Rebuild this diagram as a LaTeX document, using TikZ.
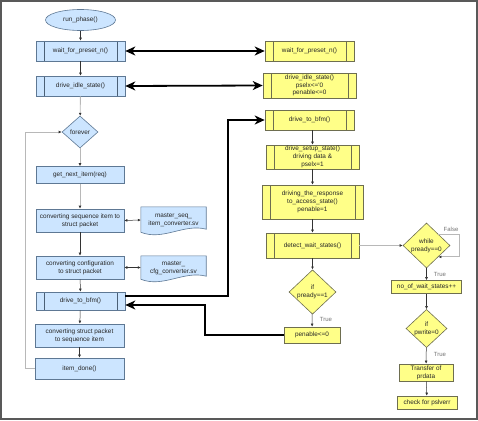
\documentclass[tikz,border=0pt]{standalone}
\usepackage{fontspec}
\setmainfont{Liberation Sans}
\usetikzlibrary{arrows.meta,shapes.geometric,calc,backgrounds}
\definecolor{bfill}{HTML}{CCE5FF}
\definecolor{bstroke}{HTML}{5E7894}
\definecolor{yfill}{HTML}{FFFF88}
\definecolor{ystroke}{HTML}{6E6E50}
\newcommand\dfont{\fontsize{6.4}{7.8}\selectfont}
\newcommand\lfont{\fontsize{6}{7}\selectfont}
\tikzset{
  base/.style={font=\dfont, text=black!85, inner sep=0pt, align=center},
  bbox/.style={base, rectangle, draw=bstroke, fill=bfill, line width=0.6pt},
  ybox/.style={base, rectangle, draw=ystroke, fill=yfill, line width=0.6pt},
  subl/.style={path picture={\draw[line width=0.6pt, draw=#1]
      ([xshift=8pt]path picture bounding box.north west) -- ([xshift=8pt]path picture bounding box.south west)
      ([xshift=-8pt]path picture bounding box.north east) -- ([xshift=-8pt]path picture bounding box.south east);}},
  bsub/.style={bbox, subl=bstroke!80!black},
  ysub/.style={ybox, subl=ystroke},
  bell/.style={base, ellipse, draw=bstroke, fill=bfill, line width=0.6pt},
  bdia/.style={bbox, diamond, aspect=1},
  ydia/.style={ybox, diamond, aspect=1},
  docnode/.style={base},
  docst/.style={draw=bstroke, fill=bfill, line width=0.6pt},
  conn/.style={draw=black!80, line width=0.5pt, -{Latex[length=3pt,width=2.8pt]}},
  dconn/.style={draw=black!80, line width=0.5pt, {Latex[length=3pt,width=2.8pt]}-{Latex[length=3pt,width=2.8pt]}},
  gconn/.style={draw=black!28, line width=0.9pt, -{Latex[length=3pt,width=2.8pt,color=black!80]}},
  bigline/.style={draw=black, line width=1.8pt, line join=miter},
  lbl/.style={font=\lfont, text=black!55, inner sep=0pt},
}
\begin{document}
\begin{tikzpicture}[x=1pt,y=-1pt]
\useasboundingbox (0,0) rectangle (478,420);
\draw[black!65, line width=1.2pt] (1,1) rectangle (477,419);

% left column
\node[bell, minimum width=70, minimum height=21] (rp) at (80.5,20) {run\_phase()};
\node[bsub, minimum width=89, minimum height=20] (lw) at (80.5,51) {wait\_for\_preset\_n()};
\node[bsub, minimum width=89, minimum height=20] (ld) at (80.5,86) {drive\_idle\_state()};
\node[bdia, minimum width=36, minimum height=32] (fe) at (80,132) {forever};
\node[bbox, minimum width=88, minimum height=17] (gn) at (80,175) {get\_next\_item(req)};
\node[bbox, minimum width=88, minimum height=23] (cs) at (80,220.5) {converting sequence item to\\struct packet};
\node[docnode, minimum width=65, minimum height=26] (f1) at (173.5,220) {master\_seq\_\\item\_converter.sv};
\node[bbox, minimum width=88, minimum height=23] (cc) at (80,267.5) {converting configuration\\to struct packet};
\node[docnode, minimum width=65, minimum height=24] (f2) at (173.5,268) {master\_\\cfg\_converter.sv};
\node[bsub, minimum width=89, minimum height=18] (lb) at (80.5,301) {drive\_to\_bfm()};
\node[bbox, minimum width=89, minimum height=23] (cp) at (79.5,335.5) {converting struct packet\\to sequence item};
\node[bbox, minimum width=89, minimum height=21] (id) at (79.5,368.5) {item\_done()};

\begin{scope}[on background layer]
\foreach \f in {f1,f2}{
  \draw[docst] (\f.north west) -- (\f.north east) -- ($(\f.south east)+(0,-4)$)
    .. controls ($(\f.south east)+(-22,-10)$) and ($(\f.south west)+(22,8)$) .. ($(\f.south west)+(0,-1)$) -- cycle;
}
\end{scope}

% right column
\node[ysub, minimum width=89, minimum height=20] (rw) at (309.5,51) {wait\_for\_preset\_n()};
\node[ysub, minimum width=93, minimum height=25] (ri) at (309.5,85.5) {drive\_idle\_state()\\pselx<=\textquotesingle0\\penable<=0};
\node[ysub, minimum width=89, minimum height=20] (rb) at (309.5,120) {drive\_to\_bfm()};
\node[ysub, minimum width=93, minimum height=24] (rs) at (312.5,157) {drive\_setup\_state()\\driving data \&\\pselx=1};
\node[ysub, minimum width=101, minimum height=34] (rr) at (312.5,202) {driving\_the\_response\\to\_access\_state()\\penable=1};
\node[ysub, minimum width=93, minimum height=25] (rd) at (312.5,245.5) {detect\_wait\_states()};
\node[ydia, minimum width=47, minimum height=44] (ip) at (312.5,292) {if\\pready==1};
\node[ybox, minimum width=56, minimum height=16] (pe) at (312,335) {penable<=0};
\node[ydia, minimum width=47, minimum height=45] (wp) at (426.5,245.5) {while\\pready==0};
\node[ybox, minimum width=70, minimum height=13] (nw) at (426.5,287) {no\_of\_wait\_states++};
\node[ydia, minimum width=41, minimum height=37] (iw) at (426.5,328.5) {if\\pwrite=0};
\node[ybox, minimum width=54, minimum height=17] (tp) at (426,372.5) {Transfer of\\prdata};
\node[ybox, minimum width=60, minimum height=13] (cv) at (427,402.5) {check for pslverr};

% labels
\node[lbl] (t1) at (326,319.5) {True};
\node[lbl] (t2) at (440,274) {True};
\node[lbl] (t3) at (440,354) {True};
\node[lbl] (fl) at (451,229.5) {False};

% left connectors
\draw[conn] (rp) -- (lw);
\draw[conn] (lw) -- (ld);
\draw[gconn] (ld) -- (fe);
\draw[gconn] (fe) -- (gn);
\draw[gconn] (gn) -- (cs);
\draw[conn] (cs) -- (cc);
\draw[conn] (cc) -- (lb);
\draw[conn] (lb) -- (cp);
\draw[conn] (cp) -- (id);
\draw[dconn] (cs.east) -- (f1.west);
\draw[dconn] (cc.east) -- (f2.west |- cc.east);
\coordinate (lx) at (25,0);
\draw[gconn] (id.west) -| (lx |- fe.west) -- (fe.west);

% right connectors
\draw[conn] (rs.north |- rb.south) -- (rs.north);
\draw[conn] (rs) -- (rr);
\draw[conn] (rr) -- (rd);
\draw[conn] (rd) -- (ip);
\draw[conn] (ip) -- (pe);
\draw[gconn] (rd.east) -- (wp.west);
\draw[conn] (wp) -- (nw);
\draw[conn] (nw) -- (iw);
\draw[conn] (iw) -- (tp);
\draw[conn] (tp) -- (cv);
\coordinate (rx) at (459,0);
\draw[gconn] (wp.north east) -- (rx |- wp.north east) -- (rx |- wp.south east) -- (wp.south east);

% thick connectors
\draw[bigline, {Stealth[length=10pt,width=9pt,inset=3pt]}-{Stealth[length=10pt,width=9pt,inset=3pt]}] (lw.east) -- (rw.west);
\draw[bigline, {Stealth[length=10pt,width=9pt,inset=3pt]}-{Stealth[length=10pt,width=9pt,inset=3pt]}] (ld.east) -- (ri.west);
\coordinate (lbout) at ($(lb.east)+(0,-5)$);
\coordinate (lbin) at ($(lb.east)+(0,4)$);
\coordinate (ta) at (228,0);
\coordinate (tb) at (205,0);
\draw[bigline, -{Stealth[length=10pt,width=9pt,inset=3pt]}] (lbout) -| (ta |- rb.west) -- (rb.west);
\draw[bigline, -{Stealth[length=10pt,width=9pt,inset=3pt]}] (pe.west) -| (tb |- lbin) -- (lbin);
\end{tikzpicture}
\end{document}
